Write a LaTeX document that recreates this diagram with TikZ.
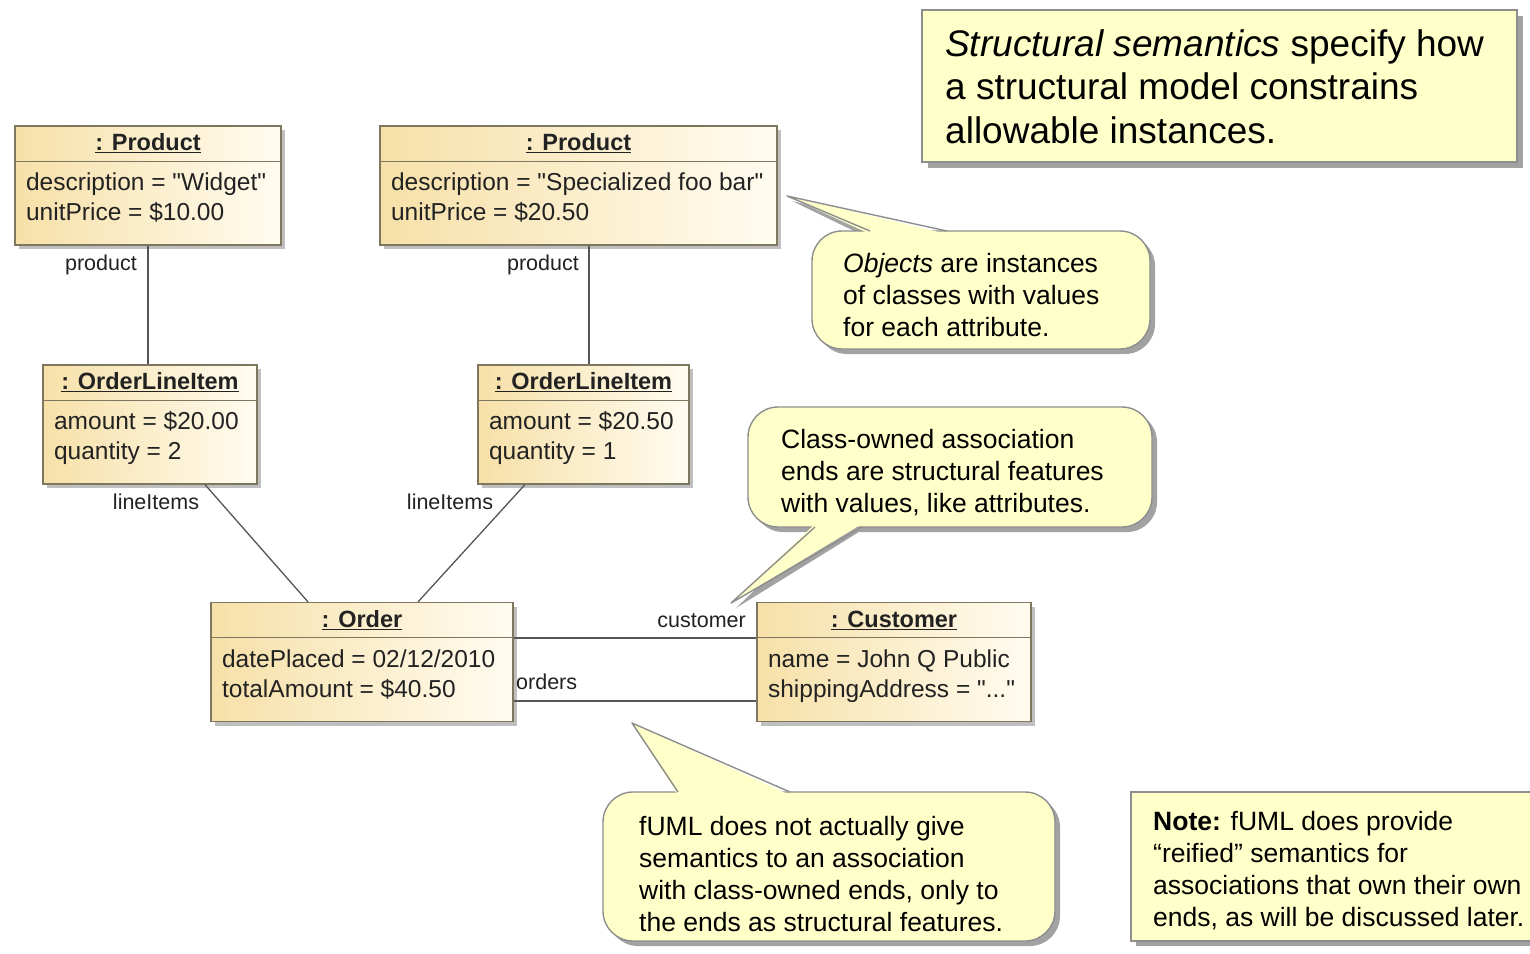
\documentclass[tikz,border=0pt]{standalone}
\usepackage{fontspec}
\setmainfont{Liberation Sans}
\usetikzlibrary{shadows}

\definecolor{umlA}{HTML}{F7E0A8}
\definecolor{umlB}{HTML}{FFFCF0}
\definecolor{umlline}{HTML}{7D7760}
\definecolor{linkc}{HTML}{555555}
\definecolor{notefill}{HTML}{FFFFCA}
\definecolor{noteline}{HTML}{8E8E8E}
\definecolor{shadowc}{HTML}{A2A2A2}
\definecolor{inkc}{HTML}{222222}

\tikzset{
  umlbox/.style={draw=umlline, line width=1.2pt, left color=umlA, right color=umlB,
    inner sep=0pt,
    drop shadow={shadow xshift=4pt, shadow yshift=-4pt, fill=black, opacity=0.25}},
  umlsep/.style={draw=umlline, line width=1pt},
  umltitle/.style={font=\bfseries\fontsize{23.5}{28}\selectfont, text=inkc, anchor=base, inner sep=0pt},
  umlattr/.style={font=\fontsize{24.5}{28}\selectfont, text=inkc, anchor=base west, inner sep=0pt},
  endlabel/.style={font=\fontsize{21.5}{24}\selectfont, text=inkc, inner sep=0pt},
  link/.style={draw=linkc, line width=1.3pt},
  bubble/.style={draw=noteline, line width=1.4pt, fill=notefill, rounded corners=30pt},
  bubbleedge/.style={draw=noteline, line width=1.4pt, line join=round},
  notebox/.style={draw=noteline, line width=1.4pt, fill=notefill},
  bubbletext/.style={font=\fontsize{26.5}{32}\selectfont, text=black, align=left,
    anchor=north west, inner sep=0pt},
  bigtext/.style={font=\fontsize{37}{43.5}\selectfont, text=black, align=left,
    anchor=north west, inner sep=0pt}
}

% straight double quote
\newcommand{\dq}{\textquotedbl}

% object box: name, centre x, centre y, width, title, first and second slot
\newcommand{\objbox}[7]{%
  \node[umlbox, minimum width=#4pt, minimum height=119pt] (#1) at (#2,#3) {};
  \draw[umlsep] ([yshift=-36pt]#1.north west) -- ([yshift=-36pt]#1.north east);
  \node[umltitle] (#1-title) at ([yshift=-25.5pt]#1.north) {\underline{#5}};
  \node[umlattr] (#1-a) at ([xshift=11.5pt,yshift=-65.5pt]#1.north west) {#6};
  \node[umlattr] (#1-b) at ([xshift=11.5pt,yshift=-95.5pt]#1.north west) {#7};
}

\begin{document}
\begin{tikzpicture}[x=1pt,y=-1pt]
\useasboundingbox (0,0) rectangle (1530,953);
\fill[white] (0,0) rectangle (1530,953);

% ---- object instances ----
\objbox{p1}{148}{185.5}{266}{: Product}{description = \dq Widget\dq}{unitPrice = \$10.00}
\objbox{p2}{578.5}{185.5}{397}{: Product}{description = \dq Specialized foo bar\dq}{unitPrice = \$20.50}
\objbox{oli1}{150}{424.5}{214}{: OrderLineItem}{amount = \$20.00}{quantity = 2}
\objbox{oli2}{583.5}{424.5}{211}{: OrderLineItem}{amount = \$20.50}{quantity = 1}
\objbox{order}{362}{662}{302}{: Order}{datePlaced = 02/12/2010}{totalAmount = \$40.50}
\objbox{cust}{894}{662}{274}{: Customer}{name = John Q Public}{shippingAddress = \dq...\dq}

% ---- links ----
\draw[link] (p1.south) -- (p1.south |- oli1.north);
\draw[link] ([xshift=10.5pt]p2.south) -- ([xshift=5.5pt]oli2.north);
\draw[link] ([xshift=55pt]oli1.south) -- ([xshift=-54pt]order.north);
\draw[link] ([xshift=-58.5pt]oli2.south) -- ([xshift=56pt]order.north);
\draw[link] ([yshift=24pt]order.east) -- ([yshift=24pt]cust.west);
\draw[link] ([yshift=-39pt]order.east) -- ([yshift=-39pt]cust.west);

% ---- link end names ----
\node[endlabel, anchor=base east] (e1) at (137,270) {product};
\node[endlabel, anchor=base east] (e2) at (579,270) {product};
\node[endlabel, anchor=base] (e3) at (156,509) {lineItems};
\node[endlabel, anchor=base] (e4) at (450,509) {lineItems};
\node[endlabel, anchor=base east] (e5) at (746,627) {customer};
\node[endlabel, anchor=base west] (e6) at (516,689) {orders};

% ---- callout: objects ----
\fill[shadowc, shift={(5,5)}, rounded corners=30pt] (812,231) rectangle (1150,349);
\fill[shadowc, shift={(5,5)}] (870,236) -- (787,196) -- (947,236) -- cycle;
\draw[bubble] (812,231) rectangle (1150,349);
\fill[notefill] (870,234) -- (787,196) -- (947,234) -- cycle;
\draw[bubbleedge] (870,231) -- (787,196) -- (947,231);
\node[bubbletext] (c1) at (843,253) {\textit{Objects} are instances\\of classes with values\\for each attribute.};

% ---- callout: class-owned ends ----
\fill[shadowc, shift={(5,5)}, rounded corners=30pt] (748,407) rectangle (1152,527);
\fill[shadowc, shift={(5,5)}] (815,522) -- (731,603) -- (862,522) -- cycle;
\draw[bubble] (748,407) rectangle (1152,527);
\fill[notefill] (815,524) -- (731,603) -- (862,524) -- cycle;
\draw[bubbleedge] (815,527) -- (731,603) -- (862,527);
\node[bubbletext] (c2) at (781,429) {Class-owned association\\ends are structural features\\with values, like attributes.};

% ---- callout: fUML semantics ----
\fill[shadowc, shift={(5,5)}, rounded corners=30pt] (603,792) rectangle (1055,941);
\fill[shadowc, shift={(5,5)}] (678,797) -- (632,723) -- (790,797) -- cycle;
\draw[bubble] (603,792) rectangle (1055,941);
\fill[notefill] (678,795) -- (632,723) -- (790,795) -- cycle;
\draw[bubbleedge] (678,792) -- (632,723) -- (790,792);
\node[bubbletext] (c3) at (639,816) {fUML does not actually give\\semantics to an association\\with class-owned ends, only to\\the ends as structural features.};

% ---- notes ----
\fill[shadowc, shift={(6,6)}] (922,10) rectangle (1517,162);
\draw[notebox] (922,10) rectangle (1517,162);
\node[bigtext] (n1) at (945,29) {\textit{Structural semantics} specify how\\a structural model constrains\\allowable instances.};

\fill[shadowc, shift={(5,5)}] (1131,792) rectangle (1545,941);
\draw[notebox] (1131,792) rectangle (1545,941);
\node[bubbletext] (n2) at (1153,811) {\textbf{Note:} fUML does provide\\“reified” semantics for\\associations that own their own\\ends, as will be discussed later.};
\end{tikzpicture}
\end{document}
